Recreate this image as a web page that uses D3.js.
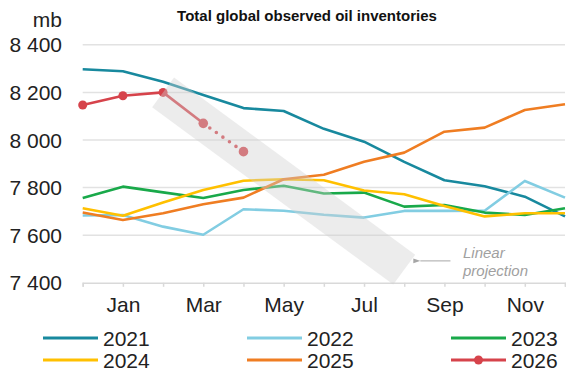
<!DOCTYPE html>
<html>
<head>
<meta charset="utf-8">
<script src="https://cdn.jsdelivr.net/npm/d3@7"></script>
<style>
  body { margin: 0; background: #fff; }
  svg { display: block; font-family: "Liberation Sans", Arial, sans-serif; }
</style>
</head>
<body>
<div id="chart"></div>
<script>
// data (index 0 = previous December)
const months = ["Dec", "Jan", "Feb", "Mar", "Apr", "May", "Jun", "Jul", "Aug", "Sep", "Oct", "Nov", "Dec"];
const shownMonths = ["Jan", "Mar", "May", "Jul", "Sep", "Nov"];
const yTicks = [7400, 7600, 7800, 8000, 8200, 8400];

const years = ["2021", "2022", "2023", "2024", "2025", "2026"];
const s2021 = [8297, 8289, 8245, 8189, 8134, 8122, 8047, 7993, 7908, 7831, 7806, 7762, 7679];
const s2022 = [7683, 7685, 7636, 7602, 7709, 7703, 7686, 7674, 7702, 7702, 7703, 7828, 7758];
const s2023 = [7756, 7804, 7780, 7756, 7790, 7808, 7775, 7779, 7720, 7727, 7695, 7685, 7713];
const s2024 = [7713, 7682, 7737, 7790, 7829, 7835, 7831, 7788, 7772, 7723, 7679, 7692, 7692];
const s2025 = [7695, 7664, 7692, 7730, 7758, 7835, 7854, 7909, 7947, 8035, 8052, 8126, 8150];
const s2026 = [8147, 8186, 8200];
const s2026proj = [8200, 8070, 7951]; // months 2..4
const colors = ["#18899e", "#82cde2", "#19a94a", "#ffc000", "#ef7d22", "#d6434b"];

// projection band: from (month index, value) to (month index, value)
const bandStart = [2, 8200];
const bandEnd = [8, 7455];

const width = 566;
const height = 373;

const svg = d3.select("#chart")
  .append("svg")
  .attr("width", width)
  .attr("height", height);

const x = d3.scaleLinear().domain([0, 12]).range([82.7, 565]);
const y = d3.scaleLinear().domain([7400, 8400]).range([282.8, 44.8]);

const fmt = d3.formatLocale({ decimal: ".", thousands: " ", grouping: [3], currency: ["", ""] }).format(",");

// title
svg.append("text")
  .attr("x", 307)
  .attr("y", 21)
  .attr("text-anchor", "middle")
  .attr("font-size", 15)
  .attr("font-weight", "bold")
  .attr("fill", "#111")
  .text("Total global observed oil inventories");

// unit
svg.append("text")
  .attr("x", 62)
  .attr("y", 27)
  .attr("text-anchor", "end")
  .attr("font-size", 21)
  .attr("fill", "#222")
  .text("mb");

// gridlines
svg.append("g")
  .selectAll("line")
  .data(yTicks.slice(1))
  .enter()
  .append("line")
  .attr("x1", x(0))
  .attr("x2", x(12))
  .attr("y1", (d) => y(d))
  .attr("y2", (d) => y(d))
  .attr("stroke", "#e2e2e2")
  .attr("stroke-width", 1.5);

// y labels
svg.append("g")
  .selectAll("text")
  .data(yTicks)
  .enter()
  .append("text")
  .attr("x", 62)
  .attr("y", (d) => y(d))
  .attr("dy", "0.36em")
  .attr("text-anchor", "end")
  .attr("font-size", 21)
  .attr("fill", "#222")
  .text((d) => fmt(d));

// x axis
const xAxis = d3.axisBottom(x)
  .tickValues(d3.range(13))
  .tickSize(4)
  .tickFormat((d) => shownMonths.includes(months[d]) && d > 0 ? months[d] : "");

const gx = svg.append("g")
  .attr("transform", `translate(0, ${y(7400)})`)
  .call(xAxis);
gx.select(".domain").attr("stroke", "#d9d9d9").attr("stroke-width", 1.5);
gx.selectAll(".tick line").attr("stroke", "#d9d9d9").attr("stroke-width", 1.5);
gx.selectAll(".tick text")
  .attr("y", 29)
  .attr("dy", 0)
  .attr("font-size", 21)
  .attr("font-family", "Liberation Sans, Arial, sans-serif")
  .attr("fill", "#222");

// lines
const line = d3.line()
  .x((d, i) => x(i))
  .y((d) => y(d));

const allSeries = [s2021, s2022, s2023, s2024, s2025, s2026];

svg.append("g")
  .selectAll("path")
  .data(allSeries)
  .enter()
  .append("path")
  .attr("d", (d) => line(d))
  .attr("fill", "none")
  .attr("stroke", (d, i) => colors[i])
  .attr("stroke-width", 2.6)
  .attr("stroke-linejoin", "round");

// 2026 projection
const projLine = d3.line()
  .x((d, i) => x(i + 2))
  .y((d) => y(d));

svg.append("path")
  .attr("d", projLine(s2026proj.slice(0, 2)))
  .attr("fill", "none")
  .attr("stroke", colors[5])
  .attr("stroke-width", 2.6);

svg.append("path")
  .attr("d", projLine.x((d, i) => x(i + 3))(s2026proj.slice(1)))
  .attr("fill", "none")
  .attr("stroke", colors[5])
  .attr("stroke-width", 3.6)
  .attr("stroke-linecap", "round")
  .attr("stroke-dasharray", "0 8");

// 2026 markers
svg.append("g")
  .selectAll("circle")
  .data(s2026)
  .enter()
  .append("circle")
  .attr("cx", (d, i) => x(i))
  .attr("cy", (d) => y(d))
  .attr("r", 4.5)
  .attr("fill", colors[5]);

svg.append("g")
  .selectAll("circle")
  .data(s2026proj.slice(1))
  .enter()
  .append("circle")
  .attr("cx", (d, i) => x(i + 3))
  .attr("cy", (d) => y(d))
  .attr("r", 4.8)
  .attr("fill", colors[5]);

// translucent band over the projection
const p0 = [x(bandStart[0]), y(bandStart[1])];
const p1 = [x(bandEnd[0]), y(bandEnd[1])];
const len = Math.hypot(p1[0] - p0[0], p1[1] - p0[1]);
const ang = Math.atan2(p1[1] - p0[1], p1[0] - p0[0]) * 180 / Math.PI;
const bandW = 37;

svg.append("rect")
  .attr("x", 0)
  .attr("y", -bandW / 2)
  .attr("width", len)
  .attr("height", bandW)
  .attr("transform", `translate(${p0[0]}, ${p0[1]}) rotate(${ang})`)
  .attr("fill", "#cfcfcf")
  .attr("fill-opacity", 0.4);

// annotation
svg.append("defs")
  .append("marker")
  .attr("id", "arr")
  .attr("viewBox", "0 0 10 10")
  .attr("refX", 0)
  .attr("refY", 5)
  .attr("markerWidth", 7)
  .attr("markerHeight", 7)
  .attr("markerUnits", "userSpaceOnUse")
  .attr("orient", "auto")
  .append("path")
  .attr("d", "M0,5 L10,1.5 L10,8.5 Z")
  .attr("fill", "#a6a6a6");

svg.append("line")
  .attr("x1", x(9.15))
  .attr("x2", x(8.4))
  .attr("y1", y(7492))
  .attr("y2", y(7492))
  .attr("stroke", "#a6a6a6")
  .attr("stroke-width", 1)
  .attr("marker-end", "url(#arr)");

const note = svg.append("text")
  .attr("font-size", 15)
  .attr("font-style", "italic")
  .attr("fill", "#a0a0a0");
note.append("tspan").attr("x", 463).attr("y", 258).text("Linear");
note.append("tspan").attr("x", 463).attr("y", 276).text("projection");

// legend
const legendX = [43, 247, 451];
const legendY = [338, 360];

const legend = svg.append("g")
  .selectAll("g")
  .data(years)
  .enter()
  .append("g")
  .attr("transform", (d, i) => `translate(${legendX[i % 3]}, ${legendY[Math.floor(i / 3)]})`);

legend.append("line")
  .attr("x1", 0)
  .attr("x2", 55)
  .attr("stroke", (d, i) => colors[i])
  .attr("stroke-width", 3);

legend.filter((d) => d === "2026")
  .append("circle")
  .attr("cx", 27.5)
  .attr("r", 4.5)
  .attr("fill", colors[5]);

legend.append("text")
  .attr("x", 60)
  .attr("y", 7.5)
  .attr("font-size", 21)
  .attr("fill", "#222")
  .text((d) => d);
</script>
</body>
</html>
